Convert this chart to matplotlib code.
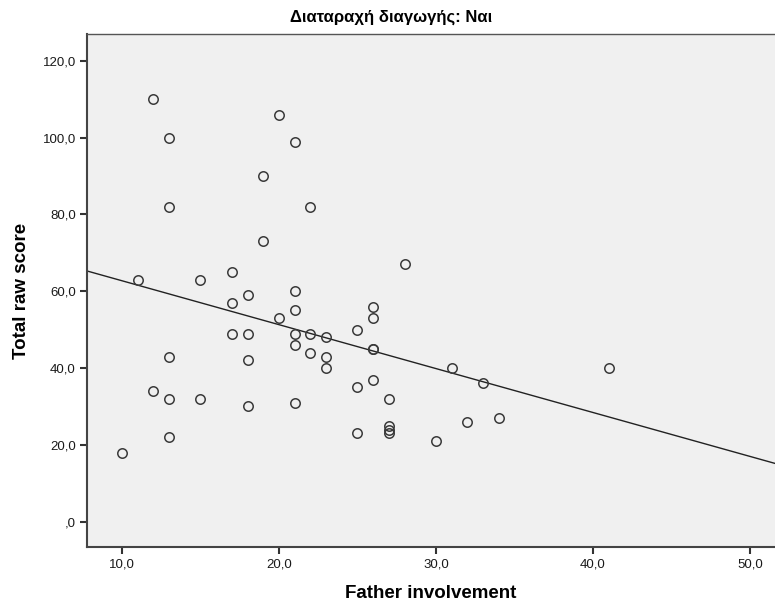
import numpy as np
import matplotlib
matplotlib.use("Agg")
import matplotlib.pyplot as plt
from matplotlib.ticker import FuncFormatter

plt.rcParams['font.family'] = ['Liberation Sans', 'DejaVu Sans']

# father involvement vs total raw score (conduct disorder = yes)
father_involvement = [12, 13, 13, 20, 21, 19, 22, 19, 28, 11,
                      15, 17, 17, 18, 21, 21, 20, 26, 26, 25,
                      17, 18, 21, 22, 23, 21, 22, 23, 26, 26,
                      18, 13, 23, 31, 41, 33, 26, 25, 12, 13,
                      15, 18, 21, 27, 27, 27, 27, 25, 34, 32,
                      30, 13, 10]
total_raw_score = [110, 100, 82, 106, 99, 90, 82, 73, 67, 63,
                   63, 65, 57, 59, 60, 55, 53, 56, 53, 50,
                   49, 49, 49, 49, 48, 46, 44, 43, 45, 45,
                   42, 43, 40, 40, 40, 36, 37, 35, 34, 32,
                   32, 30, 31, 32, 25, 24, 23, 23, 27, 26,
                   21, 22, 18]
x_ticks = [10, 20, 30, 40, 50]
y_ticks = [0, 20, 40, 60, 80, 100, 120]

x = np.array(father_involvement, dtype=float)
y = np.array(total_raw_score, dtype=float)
slope, intercept = np.polyfit(x, y, 1)

fig = plt.figure(figsize=(7.75, 6.05), dpi=100)
ax = fig.add_axes([87/775, 1-547/605, 1-87/775, (547-34)/605])
ax.set_facecolor('#f0f0f0')

xmin, xmax = 7.77, 51.6
ax.set_xlim(xmin, xmax)
ax.set_ylim(-6.6, 127.0)

# fit line across the whole plot
xl = np.array([xmin, xmax])
ax.plot(xl, intercept + slope * xl, color='#222222', lw=1.0, zorder=2)

ax.plot(x, y, 'o', mfc='none', mec='#3a3a3a', mew=1.1, ms=6.8, zorder=3)


def spss_fmt(v, pos):
    s = f"{v:.1f}".replace('.', ',')
    if s.startswith('0,'):
        s = s[1:]
    return s


ax.xaxis.set_major_formatter(FuncFormatter(spss_fmt))
ax.yaxis.set_major_formatter(FuncFormatter(spss_fmt))
ax.set_xticks(x_ticks)
ax.set_yticks(y_ticks)
ax.tick_params(direction='out', length=5, width=1.5, color='#333333',
               labelsize=9.5, labelcolor='#1a1a1a', pad=3)

for side in ['left', 'bottom']:
    ax.spines[side].set_color('#444444')
    ax.spines[side].set_linewidth(1.5)
ax.spines['top'].set_color('#555555')
ax.spines['top'].set_linewidth(1.0)
ax.spines['right'].set_visible(False)

ax.set_xlabel('Father involvement', fontsize=13.5, fontweight='bold', labelpad=11)
ax.set_ylabel('Total raw score', fontsize=13.5, fontweight='bold', labelpad=9)
fig.text(0.505, 1 - 17/605, 'Διαταραχή διαγωγής: Ναι', ha='center', va='center',
         fontsize=12, fontweight='bold')

fig.savefig('out.png', dpi=100, facecolor='white')
